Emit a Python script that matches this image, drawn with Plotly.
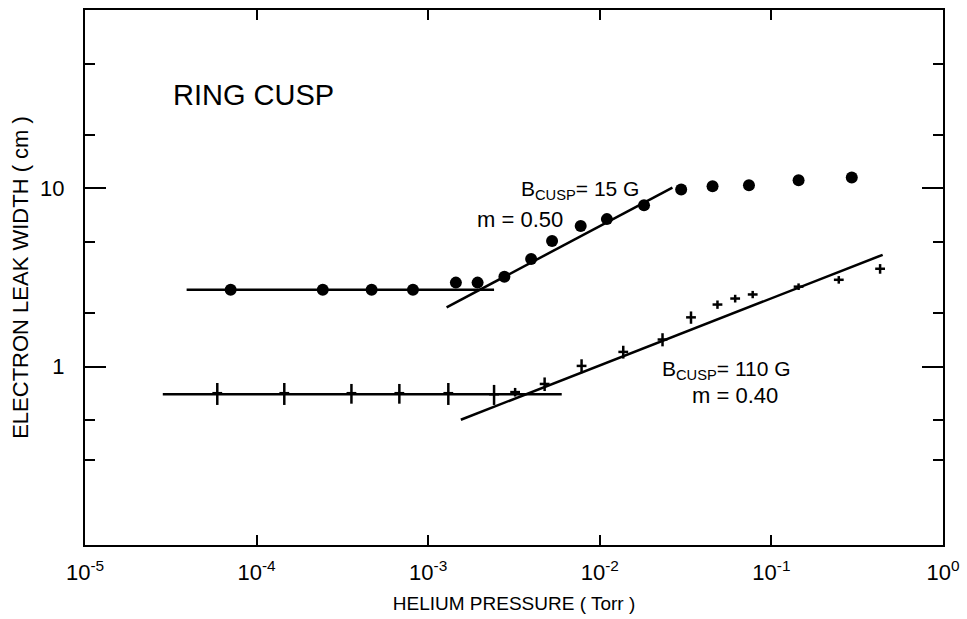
import plotly.graph_objects as go

# ---- data ----
# B_cusp = 15 G  (filled circles)
p15 = [7.06e-5, 2.43e-4, 4.68e-4, 8.15e-4, 1.45e-3, 1.94e-3, 2.78e-3, 3.98e-3, 5.27e-3,
       7.74e-3, 1.10e-2, 1.81e-2, 2.98e-2, 4.54e-2, 7.40e-2, 0.144, 0.294]
w15 = [2.70, 2.70, 2.70, 2.70, 2.96, 2.96, 3.19, 4.02, 5.07,
       6.14, 6.72, 8.04, 9.85, 10.26, 10.4, 11.1, 11.5]

# B_cusp = 110 G  (crosses with error bars)
p110 = [5.90e-5, 1.45e-4, 3.57e-4, 6.79e-4, 1.31e-3, 2.42e-3, 3.21e-3, 4.77e-3, 7.83e-3,
        1.37e-2, 2.32e-2, 3.40e-2, 4.85e-2, 6.15e-2, 7.78e-2, 0.144, 0.247, 0.43]
w110 = [0.71, 0.71, 0.71, 0.71, 0.71, 0.70, 0.72, 0.80, 1.01,
        1.21, 1.42, 1.89, 2.23, 2.41, 2.54, 2.81, 3.07, 3.54]
e110 = [0.10, 0.10, 0.09, 0.09, 0.10, 0.09, 0.04, 0.07, 0.09,
        0.10, 0.12, 0.15, 0.12, 0.12, 0.12, 0.12, 0.15, 0.22]

# guide lines
flat15_x = [3.91e-5, 2.42e-3]
flat15_y = [2.70, 2.70]
fit15_x = [1.28e-3, 2.65e-2]
fit15_y = [2.15, 10.1]
flat110_x = [2.84e-5, 6.0e-3]
flat110_y = [0.70, 0.70]
fit110_x = [1.55e-3, 0.445]
fit110_y = [0.504, 4.24]

x_tickvals = [1e-5, 1e-4, 1e-3, 1e-2, 1e-1, 1e0]
x_ticktext = ["10<sup>-5</sup>", "10<sup>-4</sup>", "10<sup>-3</sup>",
              "10<sup>-2</sup>", "10<sup>-1</sup>", "10<sup>0</sup>"]
y_tickvals = [1, 10]
y_ticktext = ["1", "10"]
y_minor = [0.3, 0.5, 2, 5, 20, 50]

FONT = "Liberation Sans"
BLACK = "black"

fig = go.Figure()

line_style = dict(color=BLACK, width=2.5)
for xs, ys in [(flat15_x, flat15_y), (fit15_x, fit15_y),
               (flat110_x, flat110_y), (fit110_x, fit110_y)]:
    fig.add_trace(go.Scatter(x=xs, y=ys, mode="lines", line=line_style,
                             showlegend=False, hoverinfo="skip"))

fig.add_trace(go.Scatter(
    x=p15, y=w15, mode="markers", name="B_CUSP = 15 G",
    marker=dict(symbol="circle", size=12, color=BLACK),
    showlegend=False))

fig.add_trace(go.Scatter(
    x=p110, y=w110, mode="markers", name="B_CUSP = 110 G",
    marker=dict(symbol="line-ew", size=7, color=BLACK,
                line=dict(color=BLACK, width=2.5)),
    error_y=dict(type="data", array=e110, visible=True, color=BLACK,
                 thickness=2.5, width=0),
    showlegend=False))

ann_font = dict(family=FONT, size=21, color=BLACK)
annotations = [
    dict(x=-4.497, y=1.524, text="RING CUSP", font=dict(family=FONT, size=29, color=BLACK)),
    dict(x=-2.472, y=0.99, text="B<sub>CUSP</sub>= 15 G", font=ann_font),
    dict(x=-2.728, y=0.823, text="m = 0.50", font=dict(family=FONT, size=22, color=BLACK)),
    dict(x=-1.651, y=-0.02, text="B<sub>CUSP</sub>= 110 G", font=ann_font),
    dict(x=-1.474, y=-0.164, text="m = 0.40", font=dict(family=FONT, size=22, color=BLACK)),
]
for a in annotations:
    a.update(xref="x", yref="y", xanchor="left", yanchor="middle", showarrow=False)

fig.update_layout(
    width=967, height=619,
    margin=dict(l=85, r=24, t=10, b=74),
    paper_bgcolor="white", plot_bgcolor="white",
    font=dict(family=FONT, color=BLACK),
    annotations=annotations,
    showlegend=False,
)

fig.update_xaxes(
    type="log", range=[-5, 0],
    tickmode="array", tickvals=x_tickvals, ticktext=x_ticktext,
    ticks="inside", ticklen=10, tickwidth=2, tickcolor=BLACK,
    tickfont=dict(family=FONT, size=22, color=BLACK),
    ticklabelstandoff=7,
    showline=True, linecolor=BLACK, linewidth=2, mirror="ticks",
    showgrid=False, zeroline=False,
    title=dict(text="HELIUM PRESSURE ( Torr )", font=dict(family=FONT, size=19, color=BLACK),
               standoff=12),
    automargin=False,
)
fig.update_yaxes(
    type="log", range=[-1, 2],
    tickmode="array", tickvals=y_tickvals, ticktext=y_ticktext,
    ticks="inside", ticklen=21, tickwidth=2, tickcolor=BLACK,
    tickfont=dict(family=FONT, size=22, color=BLACK),
    ticklabelstandoff=14,
    minor=dict(tickvals=y_minor, ticks="inside", ticklen=10, tickwidth=2, tickcolor=BLACK,
               showgrid=False),
    showline=True, linecolor=BLACK, linewidth=2, mirror="ticks",
    showgrid=False, zeroline=False,
    title=dict(text="ELECTRON LEAK WIDTH ( cm )", font=dict(family=FONT, size=22, color=BLACK),
               standoff=5),
    automargin=False,
)

fig.write_html("out.html")
